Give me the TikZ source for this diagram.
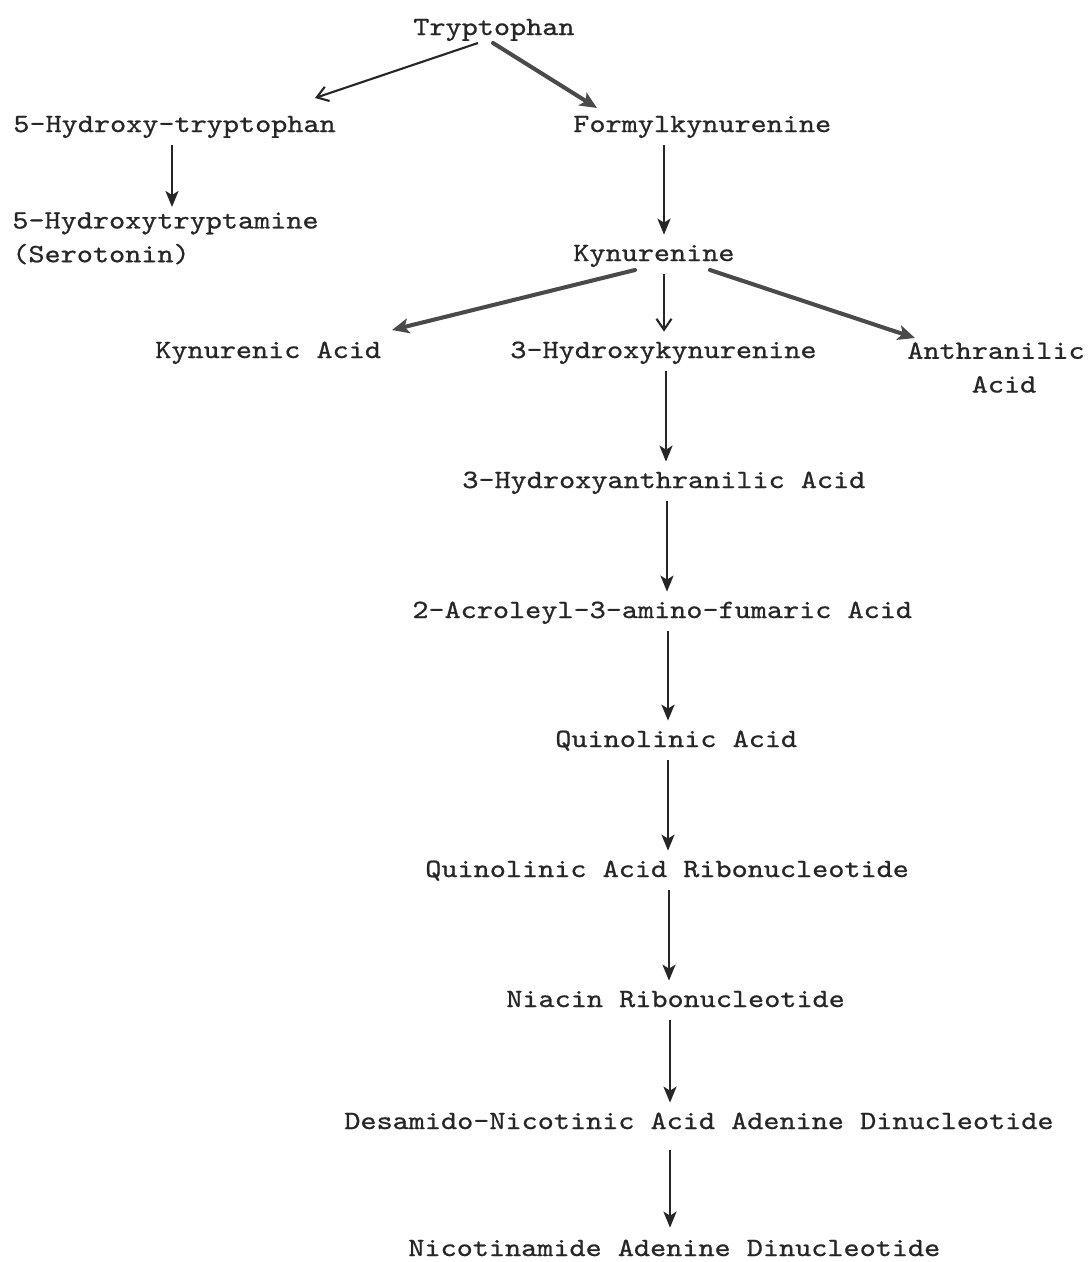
\documentclass[tikz,border=0pt]{standalone}
\usepackage{fontspec}
\newfontfamily\tw{lmmono10-regular.otf}[FakeStretch=1.165,FakeBold=0.8]
\usetikzlibrary{arrows.meta,calc}
\definecolor{ink}{HTML}{262626}
\definecolor{heavyink}{HTML}{4a4a4a}
\begin{document}
\begin{tikzpicture}[x=0.02cm,y=-0.02cm,
  lbl/.style={anchor=base west, inner xsep=0pt, inner ysep=0.2cm,
    text height=0.32cm, text depth=0.06cm,
    font=\tw\fontsize{15}{19}\selectfont, text=ink},
  lbltwo/.style={anchor=north west, inner sep=0pt, align=left,
    font=\tw\fontsize{15}{19.2}\selectfont, text=ink},
  arr/.style={draw=ink, line width=1.5pt,
    -{Stealth[length=0.32cm,width=0.26cm,inset=0.08cm]}},
  barb/.style={draw=ink, line width=1.2pt,
    -{Straight Barb[length=0.22cm,width=0.3cm]}},
  heavy/.style={draw=heavyink, line width=2.3pt, line cap=round,
    -{Stealth[length=0.34cm,width=0.3cm,inset=0.08cm]}}]
\useasboundingbox (0,0) rectangle (1091,1262);

\node[lbl] (tr)   at (413,35)   {Tryptophan};
\node[lbl] (h5)   at (13,132)   {5-Hydroxy-tryptophan};
\node[lbl] (fk)   at (573,132)  {Formylkynurenine};
\node[lbltwo] (h5t) at (12,212) {5-Hydroxytryptamine\\(Serotonin)};
\node[lbl] (ky)   at (573,261)  {Kynurenine};
\node[lbl] (ka)   at (155,358)  {Kynurenic Acid};
\node[lbl] (hk)   at (510,358)  {3-Hydroxykynurenine};
\node[lbltwo] (an) at (907,342) {Anthranilic\\\phantom{Anth}Acid};
\node[lbl] (haa)  at (462,488)  {3-Hydroxyanthranilic Acid};
\node[lbl] (aafa) at (412,618)  {2-Acroleyl-3-amino-fumaric Acid};
\node[lbl] (qa)   at (555,747)  {Quinolinic Acid};
\node[lbl] (qar)  at (425,877)  {Quinolinic Acid Ribonucleotide};
\node[lbl] (nr)   at (506,1007) {Niacin Ribonucleotide};
\node[lbl] (des)  at (344,1129) {Desamido-Nicotinic Acid Adenine Dinucleotide};
\node[lbl] (nad)  at (408,1256) {Nicotinamide Adenine Dinucleotide};

% upper branches
\draw[barb]  ($(tr.base west)+(65,8)$) -- ($(h5.base west)+(302,-34)$);
\draw[heavy] ($(tr.base west)+(80,8)$) -- ($(fk.base west)+(24,-24)$);
\draw[arr, shorten >=0.1cm] (h5.south -| 172,0) -- (h5t.north -| 172,0);
\draw[arr] (fk.south -| 664,0) -- (ky.north -| 664,0);

% kynurenine branches
\draw[heavy] ($(ky.base west)+(62,9)$) -- ($(ka.base west)+(237,-28)$);
\draw[barb]  (ky.south -| 664,0) -- (hk.north -| 664,0);
\draw[heavy] ($(ky.base west)+(137,9)$) -- ($(an.north west)+(8,-4)$);

% main chain
\draw[arr] (hk.south -| 666,0)  -- (haa.north -| 666,0);
\draw[arr] (haa.south -| 667,0) -- (aafa.north -| 667,0);
\draw[arr] (aafa.south -| 668,0) -- (qa.north -| 668,0);
\draw[arr] (qa.south -| 668,0)  -- (qar.north -| 668,0);
\draw[arr] (qar.south -| 669,0) -- (nr.north -| 669,0);
\draw[arr] (nr.south -| 670,0)  -- (des.north -| 670,0);
\draw[arr, shorten <=0.16cm, shorten >=0.04cm] (des.south -| 670,0) -- (nad.north -| 670,0);
\end{tikzpicture}
\end{document}
